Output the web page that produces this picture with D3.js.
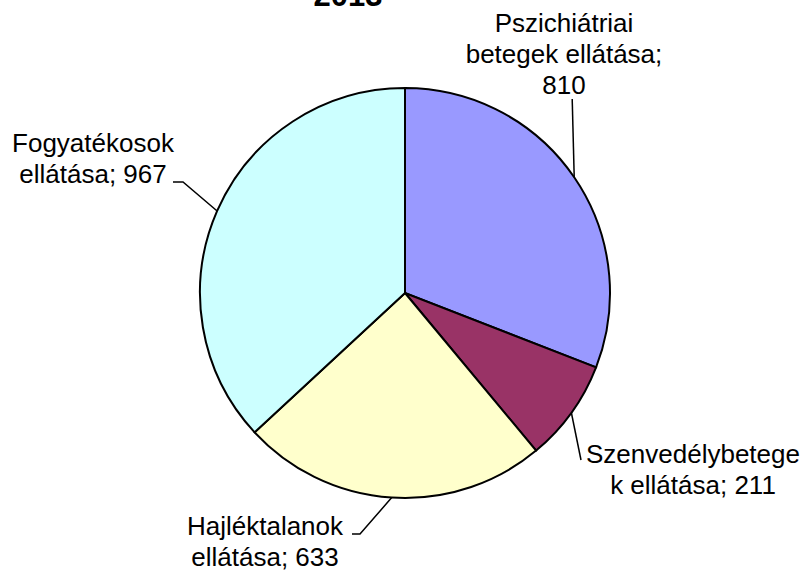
<!DOCTYPE html>
<html lang="hu">
<head>
    <meta charset="UTF-8">
    <title>Pie Chart</title>
    <script src="https://d3js.org/d3.v7.min.js"></script>
    <style>
        body { margin: 0; background: #fff; }
        svg { display: block; font-family: Arial, "Liberation Sans", sans-serif; }
    </style>
    <script>
        const CATEGORIES = [
            ["Pszichiátriai", "betegek ellátása;"],
            ["Szenvedélybetege", "k ellátása;"],
            ["Hajléktalanok", "ellátása;"],
            ["Fogyatékosok", "ellátása;"]
        ];
        const VALUES = [810, 211, 633, 967];
        const COLORS = ["#9999FF", "#993366", "#FFFFCC", "#CCFFFF"];
        const TITLE = "2013";

        document.addEventListener("DOMContentLoaded", function() {
            createPieChart();
        });

        function createPieChart() {
            const width = 806, height = 573;
            const cx = 405, cy = 293, radius = 205;

            const svg = d3.select("svg").attr("width", width).attr("height", height);

            svg.append("text")
                .attr("x", 348).attr("y", 6)
                .attr("text-anchor", "middle")
                .style("font-weight", "bold").style("font-size", "31px")
                .text(TITLE);

            const data = VALUES.map((v, i) => ({lines: CATEGORIES[i], value: v, color: COLORS[i]}));

            const pie = d3.pie().sort(null).value(d => d.value);
            const slices = pie(data);
            const arc = d3.arc().innerRadius(0).outerRadius(radius);
            const edge = d3.arc().innerRadius(radius).outerRadius(radius);

            const g = svg.append("g").attr("transform", "translate(" + cx + "," + cy + ")");

            g.selectAll("path.slice")
                .data(slices)
                .enter()
                .append("path")
                .attr("class", "slice")
                .attr("d", arc)
                .attr("fill", d => d.data.color)
                .attr("stroke", "#000")
                .style("stroke-width", "2px");

            // label layout: text anchor (relative to centre) + leader bend
            const layout = [
                {tx: 159, ty: -261, lead: p => [[p[0] - 2, -194]]},
                {tx: 288, ty: 170, lead: p => [[176, 167]]},
                {tx: -140, ty: 242, lead: p => [[-45, 241], [-53, 241]]},
                {tx: -312, ty: -141, lead: p => [[-222, -111], [-232, -111]]}
            ];

            slices.forEach((d, i) => {
                const p = edge.centroid(d);
                const L = layout[i];
                const pts = [p].concat(L.lead(p));
                g.append("path")
                    .attr("d", d3.line()(pts))
                    .attr("fill", "none")
                    .attr("stroke", "#000")
                    .style("stroke-width", "1.5px");

                const lines = d.data.lines.slice();
                if (i === 0) lines.push(String(d.data.value));
                else lines[lines.length - 1] += " " + d.data.value;

                const t = g.append("text")
                    .attr("text-anchor", "middle")
                    .style("font-size", "26px")
                    .attr("transform", "translate(" + L.tx + "," + L.ty + ")");
                t.selectAll("tspan")
                    .data(lines)
                    .enter()
                    .append("tspan")
                    .attr("x", 0)
                    .attr("dy", (s, j) => j === 0 ? 0 : 31)
                    .text(s => s);
            });
        }
    </script>
</head>
<body>
    <svg id="pie-chart"></svg>
</body>
</html>
